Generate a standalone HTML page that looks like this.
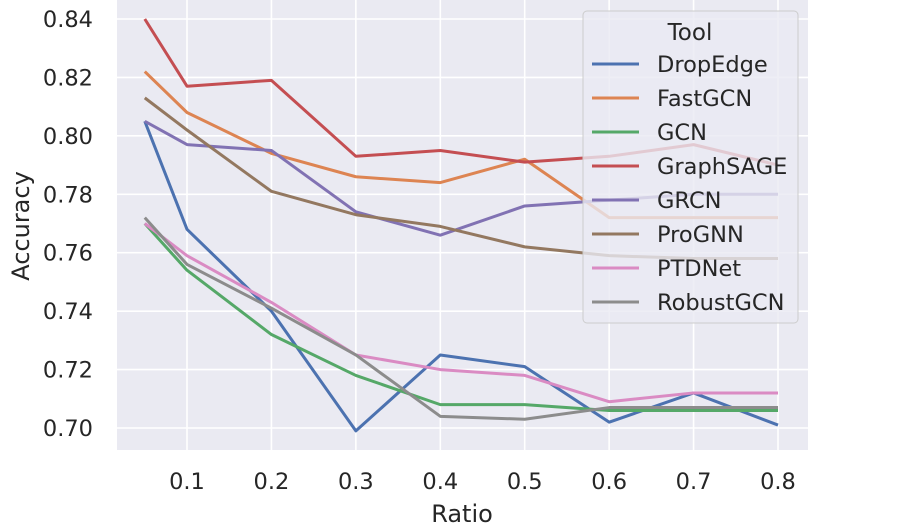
<!DOCTYPE html>
<html><head><meta charset="utf-8"><style>
html,body{margin:0;padding:0;background:#fff;}
svg{display:block;font-family:"DejaVu Sans","Liberation Sans",sans-serif;}
</style></head><body>
<svg id="chart" width="900" height="527">
<rect x="117" y="0" width="691" height="450" fill="#eaeaf2"/>
<g id="grid"></g><g id="lines"></g><g id="ticks"></g>
<text x="462" y="522" text-anchor="middle" font-size="24" fill="#262626">Ratio</text>
<text transform="translate(29,226) rotate(-90)" text-anchor="middle" font-size="24" fill="#262626">Accuracy</text>
<g id="legend"></g>
</svg>
<script>
const ratios=[0.05,0.1,0.2,0.3,0.4,0.5,0.6,0.7,0.8];
const xTicks=[0.1,0.2,0.3,0.4,0.5,0.6,0.7,0.8];
const yTicks=[0.70,0.72,0.74,0.76,0.78,0.80,0.82,0.84];
const tools=["DropEdge","FastGCN","GCN","GraphSAGE","GRCN","ProGNN","PTDNet","RobustGCN"];
const colors=["#4c72b0","#dd8452","#55a868","#c44e52","#8172b3","#937860","#da8bc3","#8c8c8c"];
const dropEdge=[0.805,0.768,0.740,0.699,0.725,0.721,0.702,0.712,0.701];
const fastGCN=[0.822,0.808,0.794,0.786,0.784,0.792,0.772,0.772,0.772];
const gcn=[0.770,0.754,0.732,0.718,0.708,0.708,0.706,0.706,0.706];
const graphSAGE=[0.840,0.817,0.819,0.793,0.795,0.791,0.793,0.797,0.790];
const grcn=[0.805,0.797,0.795,0.774,0.766,0.776,0.778,0.780,0.780];
const proGNN=[0.813,0.802,0.781,0.773,0.769,0.762,0.759,0.758,0.758];
const ptdNet=[0.770,0.759,0.743,0.725,0.720,0.718,0.709,0.712,0.712];
const robustGCN=[0.772,0.756,0.741,0.725,0.704,0.703,0.707,0.707,0.707];
const series=[dropEdge,fastGCN,gcn,graphSAGE,grcn,proGNN,ptdNet,robustGCN];
const NS="http://www.w3.org/2000/svg";
const xs=v=>187+(v-0.1)*(591/0.7);
const ys=v=>428-(v-0.70)*(409/0.14);
function mk(tag,attrs,parent){const e=document.createElementNS(NS,tag);for(const k in attrs)e.setAttribute(k,attrs[k]);parent.appendChild(e);return e;}
const grid=document.getElementById('grid'),ticks=document.getElementById('ticks'),lines=document.getElementById('lines'),leg=document.getElementById('legend');
xTicks.forEach(t=>{
 const l=mk('line',{x1:xs(t),x2:xs(t),y1:0,y2:450,stroke:'#fff','stroke-width':1.6},grid);
 
 
 const tx=mk('text',{x:xs(t),y:489,'text-anchor':'middle','font-size':22.5,fill:'#262626'},ticks);
 tx.textContent=t.toFixed(1);
 
 
});
yTicks.forEach(t=>{
 const l=mk('line',{x1:117,x2:808,y1:ys(t),y2:ys(t),stroke:'#fff','stroke-width':1.6},grid);
 
 
 const tx=mk('text',{x:93,y:ys(t)+8,'text-anchor':'end','font-size':22.5,fill:'#262626'},ticks);
 tx.textContent=t.toFixed(2);
 
 
});
series.forEach((s,i)=>{
 const p=mk('polyline',{points:s.map((v,j)=>xs(ratios[j])+','+ys(v)).join(' '),fill:'none',stroke:colors[i],'stroke-width':3,'stroke-linejoin':'round'},lines);
 
 
});
const box=mk('rect',{x:583,y:11,width:215,height:312,rx:4,fill:'#eaeaf2','fill-opacity':0.8,stroke:'#cccccc','stroke-width':1},leg);


const ttl=mk('text',{x:690,y:40,'text-anchor':'middle','font-size':23,fill:'#262626'},leg);
ttl.textContent='Tool';


tools.forEach((t,i)=>{
 const y=64+i*34;
 const g=mk('g',{},leg);
 
 
 mk('line',{x1:592,x2:639,y1:y,y2:y,stroke:colors[i],'stroke-width':3},g);
 const tx=mk('text',{x:657,y:y+8,'font-size':22.5,fill:'#262626'},g);
 tx.textContent=t;
});
</script>
</body></html>
